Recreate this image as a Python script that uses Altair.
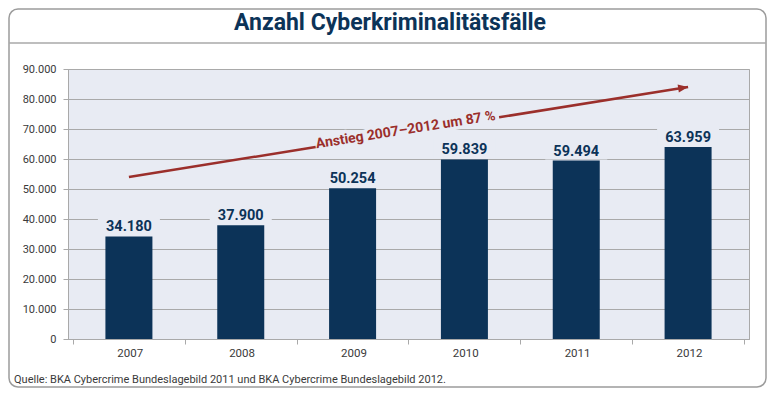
import json
import altair as alt
import pandas as pd

# ---------------- data ----------------
years = ["2007", "2008", "2009", "2010", "2011", "2012"]
cases = [34180, 37900, 50254, 59839, 59494, 63959]
y_ticks = [0, 10000, 20000, 30000, 40000, 50000, 60000, 70000, 80000, 90000]

# trend arrow, x in category units (0.5 = centre of 2007, 5.5 = centre of 2012)
arrow_x_start = [0.5, 3.81]
arrow_x_end = [2.17, 5.5]
arrow_y_start = [54000, 73900]
arrow_y_end = [64000, 84000]
arrow_head_x = [5.5]
arrow_head_y = [84000]
arrow_label = ["Anstieg 2007\u20132012 um 87 %"]
arrow_label_x = [2.98]
arrow_label_y = [68300]

title_text = "Anzahl Cyberkriminalitätsfälle"
source_text = "Quelle: BKA Cybercrime Bundeslagebild 2011 und BKA Cybercrime Bundeslagebild 2012."

# ---------------- style ----------------
NAVY = "#0c3358"
RED = "#9b2f2b"
BG = "#e8ebf3"
GRID = "#a9a9a9"
FONT = "Roboto"
W, H = 681, 270

df = pd.DataFrame({"year": years, "val": cases})
df["px"] = [i + 0.5 for i in range(len(years))]
df["label"] = [f"{v:,}".replace(",", ".") for v in cases]

xscale = alt.Scale(domain=[0, len(years)], nice=False, zero=False)
yscale = alt.Scale(domain=[0, 90000], nice=False, zero=True)

x_enc = alt.X(
    "px:Q", scale=xscale,
    axis=alt.Axis(title=None, values=list(range(len(years) + 1)),
                  labelExpr=json.dumps(years) + "[datum.value] || ''",
                  labelOffset=W / len(years) / 2, labelFlush=False, labelOverlap=False,
                  labelAngle=0, tickSize=5, labelPadding=3, grid=False,
                  domainColor=GRID, tickColor=GRID,
                  labelFontSize=11.5, labelColor="#3a3a3a", labelFont=FONT),
)
y_enc = alt.Y(
    "val:Q", scale=yscale,
    axis=alt.Axis(title=None, values=y_ticks, grid=True, gridColor=GRID, gridWidth=1,
                  tickSize=5, labelPadding=7, domainColor=GRID, tickColor=GRID,
                  labelFontSize=11, labelColor="#3a3a3a", labelFont=FONT,
                  labelExpr="replace(format(datum.value, ','), ',', '.')"),
)

base = alt.Chart(df)
bars = base.mark_bar(size=47, color=NAVY).encode(x=x_enc, y=y_enc)
label_bg = base.mark_tick(orient="horizontal", color=BG, thickness=20, size=62,
                          yOffset=-11, opacity=1).encode(x=x_enc, y=y_enc)
labels = base.mark_text(dy=-5, baseline="alphabetic", fontSize=14.5, fontWeight="bold",
                        color=NAVY, font=FONT).encode(x=x_enc, y=y_enc, text="label:N")

# arrow
seg_df = pd.DataFrame({"px": arrow_x_start, "px2": arrow_x_end,
                       "val": arrow_y_start, "val2": arrow_y_end})
arrow_line = alt.Chart(seg_df).mark_rule(color=RED, strokeWidth=2.5).encode(
    x=x_enc, x2="px2:Q", y=y_enc, y2="val2:Q")
head_df = pd.DataFrame({"px": arrow_head_x, "val": arrow_head_y})
arrow_head = alt.Chart(head_df).mark_point(
    shape="M0,0 L-2,-0.8 L-2,0.8 Z", size=100, filled=True, color=RED, opacity=1, angle=351
).encode(x=x_enc, y=y_enc)
lab_df = pd.DataFrame({"px": arrow_label_x, "val": arrow_label_y, "t": arrow_label})
lab_halo = alt.Chart(lab_df).mark_text(
    angle=351, fontSize=14, fontWeight="bold", font=FONT, color=BG, stroke=BG, strokeWidth=7,
    align="center", baseline="alphabetic",
).encode(x=x_enc, y=y_enc, text="t:N")
lab_text = alt.Chart(lab_df).mark_text(
    angle=351, fontSize=14, fontWeight="bold", font=FONT, color=RED,
    align="center", baseline="alphabetic",
).encode(x=x_enc, y=y_enc, text="t:N")

# decorations (frame, title, title rule, source)
one = pd.DataFrame({"k": [0]})
frame = alt.Chart(one).mark_rect(fillOpacity=0, stroke="#9c9c9c", strokeWidth=1.5, cornerRadius=9).encode(
    x=alt.value(-59), x2=alt.value(698), y=alt.value(-60), y2=alt.value(318))
title_rule = alt.Chart(one).mark_rule(color="#a8a8a8", strokeWidth=1.5).encode(
    x=alt.value(-59), x2=alt.value(698), y=alt.value(-26))
title = alt.Chart(one).mark_text(align="center", baseline="alphabetic", fontSize=23,
                                 fontWeight="bold", color=NAVY, font=FONT).encode(
    x=alt.value(322), y=alt.value(-39), text=alt.value(title_text))
source = alt.Chart(one).mark_text(align="left", baseline="alphabetic", fontSize=11,
                                  color="#3a3a3a", font=FONT).encode(
    x=alt.value(-54), y=alt.value(314), text=alt.value(source_text))

chart = alt.layer(
    bars, label_bg, labels, lab_halo, arrow_line, arrow_head, lab_text,
    frame, title_rule, title, source,
).properties(
    width=W, height=H,
    autosize=alt.AutoSizeParams(type="none"),
    padding={"left": 60, "top": 61, "right": 18, "bottom": 49},
).configure_view(fill=BG, stroke=GRID, strokeWidth=1)

chart.save("out.html", embed_options={"renderer": "svg", "actions": False})
